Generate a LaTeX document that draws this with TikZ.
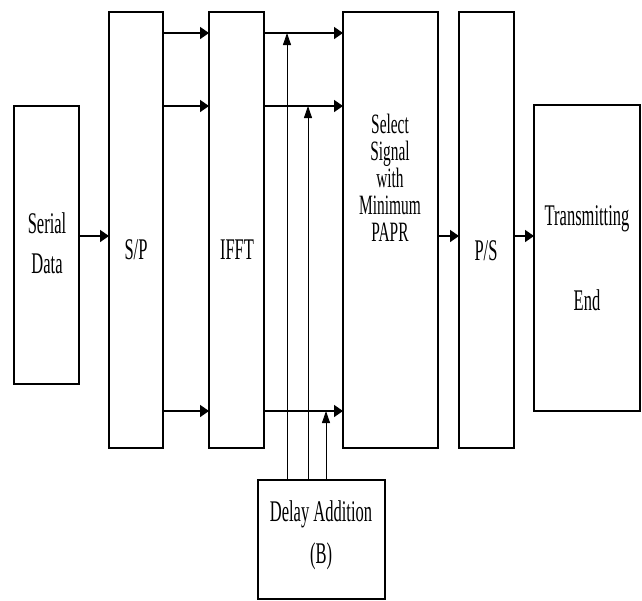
\documentclass[tikz,border=0pt]{standalone}
\usepackage{fontspec}
\setmainfont{Liberation Serif}[FakeStretch=0.55]
\usetikzlibrary{arrows.meta}
\begin{document}
\begin{tikzpicture}[x=1pt,y=-1pt,
 blk/.style={draw, line width=1.1pt, inner sep=0pt, outer sep=0pt, anchor=center},
 lbl/.style={font=\fontsize{30}{26}\selectfont, align=center, inner sep=0pt},
 sellbl/.style={font=\fontsize{28}{27}\selectfont, align=center, inner sep=0pt},
 arr/.style={line width=1.6pt, -{Triangle[length=9pt,width=12pt]}},
 varr/.style={line width=0.9pt, -{Triangle[length=12pt,width=8pt]}}]
\useasboundingbox (0,0) rectangle (642,600);
% boxes
\node[blk, minimum width=65pt, minimum height=278pt] (serial) at (46.5,245) {};
\node[blk, minimum width=54pt, minimum height=436pt] (sp) at (136,230) {};
\node[blk, minimum width=55pt, minimum height=436pt] (ifft) at (236.5,230) {};
\node[blk, minimum width=95pt, minimum height=436pt] (sel) at (390.5,230) {};
\node[blk, minimum width=55pt, minimum height=436pt] (ps) at (486.5,230) {};
\node[blk, minimum width=106pt, minimum height=306pt] (trans) at (587,258) {};
\node[blk, minimum width=127pt, minimum height=119pt] (delay) at (321.5,539.5) {};
% labels
\node[lbl] (tserial) at (47,243) {Serial\\[14pt]Data};
\node[lbl] (tsp) at (136,250) {S/P};
\node[lbl] (tifft) at (237,250) {IFFT};
\node[sellbl] (tsel) at (390,178) {Select\\Signal\\with\\Minimum\\PAPR};
\node[lbl] (tps) at (486,251) {P/S};
\node[lbl] (ttrans) at (587,258) {Transmitting\\[57pt]End};
\node[lbl] (tdelay) at (321,535) {Delay Addition\\[14pt](B)};
% rows
\coordinate (r1) at (0,33);
\coordinate (r2) at (0,106);
\coordinate (r3) at (0,411);
\coordinate (rm) at (0,236);
\coordinate (v1) at (287,0);
\coordinate (v2) at (308,0);
\coordinate (v3) at (326,0);
% arrows
\draw[arr] (serial.east |- rm) -- (sp.west |- rm);
\draw[arr] (sp.east |- r1) -- (ifft.west |- r1);
\draw[arr] (sp.east |- r2) -- (ifft.west |- r2);
\draw[arr] (sp.east |- r3) -- (ifft.west |- r3);
\draw[arr] (ifft.east |- r1) -- (sel.west |- r1);
\draw[arr] (ifft.east |- r2) -- (sel.west |- r2);
\draw[arr] (ifft.east |- r3) -- (sel.west |- r3);
\draw[arr] (sel.east |- rm) -- (ps.west |- rm);
\draw[arr] (ps.east |- rm) -- (trans.west |- rm);
\draw[varr] (v1 |- delay.north) -- (v1 |- r1);
\draw[varr] (v2 |- delay.north) -- (v2 |- r2);
\draw[varr] (v3 |- delay.north) -- (v3 |- r3);
\end{tikzpicture}
\end{document}
